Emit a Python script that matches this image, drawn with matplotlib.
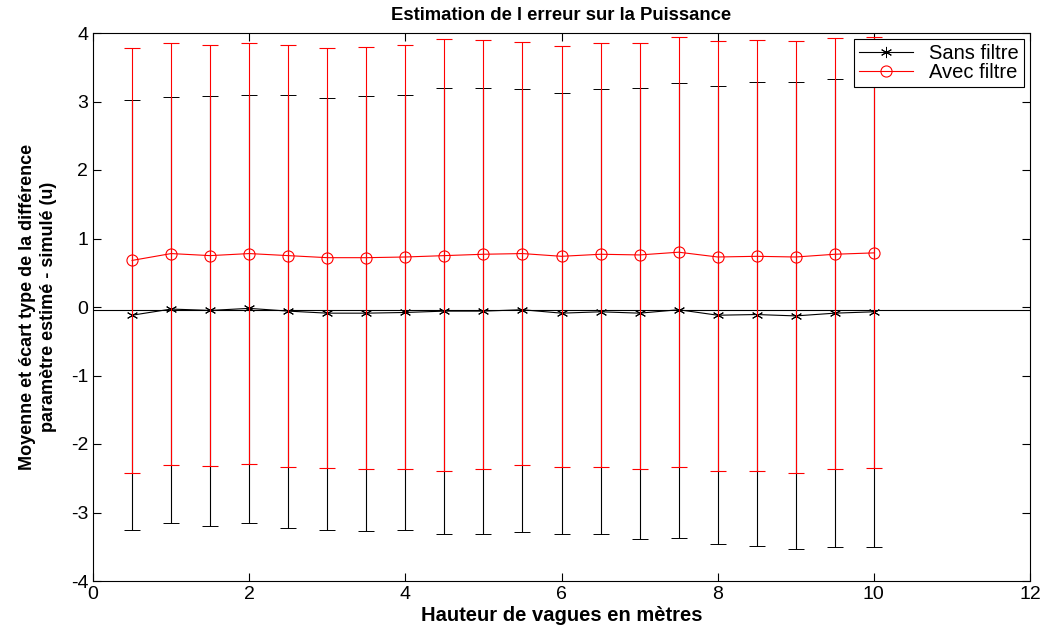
"""
Estimation de l'erreur sur la Puissance : moyenne et ecart type
"""

import numpy as np
import matplotlib
matplotlib.use('Agg')
import matplotlib.pyplot as plt

# hauteurs de vagues (m)
hauteurs = [0.5, 1.0, 1.5, 2.0, 2.5, 3.0, 3.5, 4.0, 4.5, 5.0,
            5.5, 6.0, 6.5, 7.0, 7.5, 8.0, 8.5, 9.0, 9.5, 10.0]

# sans filtre : moyenne, bas et haut de la barre
sans_moy = [-0.12, -0.03, -0.05, -0.02, -0.06, -0.09, -0.09, -0.08, -0.06, -0.06,
            -0.04, -0.09, -0.07, -0.09, -0.04, -0.12, -0.11, -0.13, -0.09, -0.07]
sans_bas = [-3.25, -3.15, -3.19, -3.15, -3.22, -3.25, -3.27, -3.26, -3.31, -3.32,
            -3.28, -3.32, -3.32, -3.38, -3.37, -3.46, -3.49, -3.54, -3.51, -3.50]
sans_haut = [3.02, 3.07, 3.08, 3.09, 3.09, 3.05, 3.08, 3.09, 3.19, 3.19,
             3.18, 3.13, 3.18, 3.19, 3.27, 3.22, 3.28, 3.29, 3.33, 3.36]

# avec filtre
avec_moy = [0.68, 0.78, 0.75, 0.78, 0.75, 0.72, 0.72, 0.73, 0.75, 0.77,
            0.78, 0.74, 0.77, 0.76, 0.80, 0.73, 0.74, 0.73, 0.77, 0.79]
avec_bas = [-2.43, -2.31, -2.32, -2.29, -2.34, -2.35, -2.36, -2.36, -2.40, -2.36,
            -2.31, -2.34, -2.34, -2.36, -2.33, -2.40, -2.40, -2.42, -2.37, -2.35]
avec_haut = [3.78, 3.86, 3.82, 3.85, 3.83, 3.78, 3.79, 3.83, 3.91, 3.90,
             3.87, 3.81, 3.86, 3.86, 3.94, 3.88, 3.90, 3.89, 3.92, 3.94]

ligne_ref = -0.04

plt.rcParams['font.family'] = ['Liberation Sans', 'DejaVu Sans']
plt.rcParams['axes.unicode_minus'] = False

x = np.array(hauteurs)
sm, sb, sh = np.array(sans_moy), np.array(sans_bas), np.array(sans_haut)
am, ab, ah = np.array(avec_moy), np.array(avec_bas), np.array(avec_haut)

fig = plt.figure(figsize=(10.42, 6.25), dpi=100)
ax = fig.add_axes([0.0893, 0.0704, 0.8992, 0.8768])

ax.axhline(ligne_ref, color='black', linewidth=0.8, zorder=1)

# asterisque facon matlab
etoile = (6, 2, 0)
eb1 = ax.errorbar(x, sm, yerr=[sm - sb, sh - sm], color='black', marker=etoile,
                  markersize=8, markeredgewidth=0.7, linewidth=0.8, elinewidth=0.8,
                  capsize=5.5, zorder=2)
eb2 = ax.errorbar(x, am, yerr=[am - ab, ah - am], color='red', marker='o',
                  markerfacecolor='none', markersize=8, markeredgewidth=0.8,
                  linewidth=0.8, elinewidth=0.8, capsize=5.5, zorder=3)

ax.set_xlim(0, 12)
ax.set_ylim(-4, 4)
ax.set_xticks(range(0, 13, 2))
ax.set_yticks(range(-4, 5))
ax.tick_params(direction='in', length=6, top=True, right=True, labelsize=14)

ax.set_title('Estimation de l erreur sur la Puissance', fontsize=13.3,
             fontweight='bold', pad=9)
ax.set_xlabel('Hauteur de vagues en mètres', fontsize=14.5, fontweight='bold',
              labelpad=2)
ax.set_ylabel('Moyenne et écart type de la différence\nparamètre estimé - simulé (u)',
              fontsize=13, fontweight='bold', labelpad=10, linespacing=1.3)

leg = ax.legend([eb1[0], eb2[0]], ['Sans filtre', 'Avec filtre'], loc='upper right',
                fontsize=14.5, fancybox=False, framealpha=1, edgecolor='black',
                borderaxespad=0.3, labelspacing=0.0, handlelength=2.7,
                borderpad=0.25, handletextpad=0.8)
leg.get_frame().set_linewidth(0.8)

fig.savefig('out.png', dpi=100)
